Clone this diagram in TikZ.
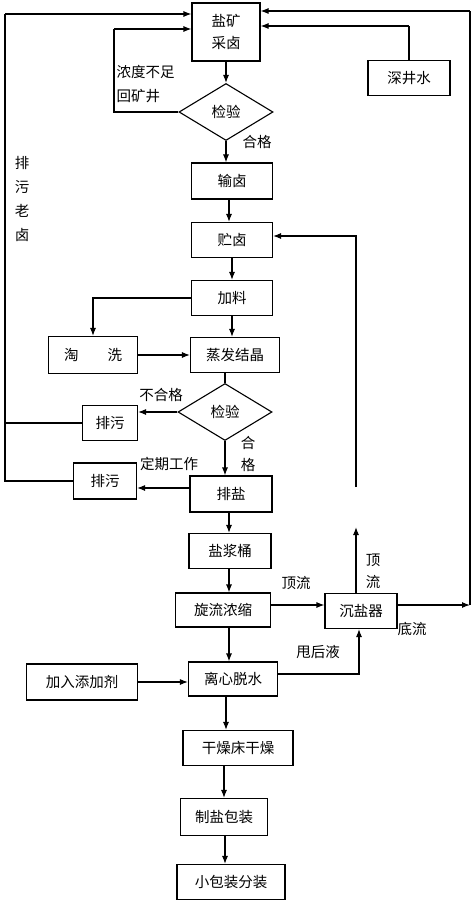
\documentclass[tikz,border=0pt]{standalone}
\usepackage{fontspec}
\newfontfamily\cjk{Noto Sans CJK SC}
\usetikzlibrary{arrows.meta,shapes.geometric}
\begin{document}
\begin{tikzpicture}[x=1pt,y=-1pt,line width=1.1pt,
  txt/.style={font=\cjk\fontsize{14.5}{22}\selectfont},
  box/.style={draw,rectangle,inner sep=0pt,align=center,txt},
  dia/.style={draw,diamond,inner sep=0pt,txt,minimum width=94pt,minimum height=57pt},
  arr/.style={-{Latex[length=8pt,width=6pt]}},
  lbl/.style={inner sep=0pt,txt}]
\useasboundingbox (0,0) rectangle (474,904);
% nodes
\node[box,minimum width=68pt,minimum height=58pt] (caikuang) at (226,32) {盐矿\\采卤};
\node[dia] (jy1) at (226,112) {检验};
\node[box,minimum width=82pt,minimum height=35pt] (shenjing) at (409,78) {深井水};
\node[box,minimum width=81pt,minimum height=36pt] (shulu) at (232,181) {输卤};
\node[box,minimum width=81pt,minimum height=35pt] (zhulu) at (232,240) {贮卤};
\node[box,minimum width=81pt,minimum height=35pt] (jialiao) at (232,298) {加料};
\node[box,minimum width=89pt,minimum height=37pt] (taoxi) at (93,355) {淘\hspace{2em}洗};
\node[box,minimum width=89pt,minimum height=35pt] (zhengfa) at (235,355) {蒸发结晶};
\node[dia] (jy2) at (225,412) {检验};
\node[box,minimum width=55pt,minimum height=35pt] (paiwu1) at (110,423) {排污};
\node[box,minimum width=63pt,minimum height=36pt] (paiwu2) at (105,481) {排污};
\node[box,minimum width=82pt,minimum height=36pt] (paiyan) at (231,494) {排盐};
\node[box,minimum width=82pt,minimum height=35pt] (yanjiang) at (230,551) {盐浆桶};
\node[box,minimum width=95pt,minimum height=34pt] (xuanliu) at (223,610) {旋流浓缩};
\node[box,minimum width=72pt,minimum height=35pt] (chenyan) at (361,611) {沉盐器};
\node[box,minimum width=89pt,minimum height=34pt] (lixin) at (233,679) {离心脱水};
\node[box,minimum width=111pt,minimum height=36pt] (tianjia) at (82,682) {加入添加剂};
\node[box,minimum width=110pt,minimum height=35pt] (ganzao) at (238,748) {干燥床干燥};
\node[box,minimum width=87pt,minimum height=37pt] (zhiyan) at (224,817) {制盐包装};
\node[box,minimum width=108pt,minimum height=35pt] (xiaobao) at (231,882) {小包装分装};
% labels
\node[lbl] (l1) at (257,142) {合格};
\node[lbl,align=center,font=\cjk\fontsize{14.5}{24}\selectfont] (l2) at (22,199) {排\\污\\老\\卤};
\node[lbl,align=left,anchor=west,font=\cjk\fontsize{14.5}{24}\selectfont] (l3) at (116,84) {浓度不足\\回矿井};
\node[lbl] (l4) at (161,395) {不合格};
\node[lbl,align=center] (l5) at (248,454) {合\\格};
\node[lbl] (l6) at (169,464) {定期工作};
\node[lbl] (l7) at (296,583) {顶流};
\node[lbl,align=center] (l8) at (373,571) {顶\\流};
\node[lbl] (l9) at (412,629) {底流};
\node[lbl] (l10) at (318,652) {甩后液};
% coordinates
\coordinate (lt) at (5,14);
\coordinate (rt) at (470,11);
\coordinate (rb) at (470,605);
\coordinate (sj) at (409,26);
\coordinate (nd) at (114,29);
\coordinate (rr) at (356,487);
\coordinate (ct) at (356,527);
% top loops
\draw (paiwu2.west) -| (lt);
\draw[arr] (lt) -- (lt -| caikuang.west);
\draw (paiwu1.west) -- (paiwu1.west -| lt);
\draw[arr] ([yshift=6pt]chenyan.east) -- (rb);
\draw (rb) -- (rt);
\draw[arr] (rt) -- (rt -| caikuang.east);
\draw (shenjing.north) -- (sj);
\draw[arr] (sj) -- (sj -| caikuang.east);
\draw (jy1.west) -| (nd);
\draw[arr] (nd) -- (nd -| caikuang.west);
\draw[arr] (rr) |- ([yshift=4pt]zhulu.east);
\draw[arr] (chenyan.north -| ct) -- (ct);
% main flow
\draw[arr] (caikuang.south) -- (caikuang.south |- jy1.north);
\draw[arr] (jy1.south) -- (jy1.south |- shulu.north);
\draw[arr] ([xshift=-3pt]shulu.south) -- ([xshift=-3pt]shulu.south |- zhulu.north);
\draw[arr] (zhulu.south) -- (zhulu.south |- jialiao.north);
\draw[arr] (jialiao.west) -| (taoxi.north);
\draw[arr] (jialiao.south) -- (jialiao.south |- zhengfa.north);
\draw[arr] (taoxi.east) -- (taoxi.east -| zhengfa.west);
\draw (jy2.north |- zhengfa.south) -- (jy2.north);
\draw[arr] (jy2.west) -- (jy2.west -| paiwu1.east);
\draw[arr] (jy2.south) -- (jy2.south |- paiyan.north);
\draw[arr] ([yshift=6pt]paiyan.west) -- ([yshift=6pt]paiyan.west -| paiwu2.east);
\draw[arr] ([xshift=-2pt]paiyan.south) -- ([xshift=-2pt]paiyan.south |- yanjiang.north);
\draw[arr] ([xshift=-1pt]yanjiang.south) -- ([xshift=-1pt]yanjiang.south |- xuanliu.north);
\draw[arr] ([yshift=5pt]xuanliu.east) -- ([yshift=5pt]xuanliu.east -| chenyan.west);
\draw[arr] ([xshift=6pt]xuanliu.south) -- ([xshift=6pt]xuanliu.south |- lixin.north);
\draw[arr] (tianjia.east) -- (tianjia.east -| lixin.west);
\draw[arr] ([yshift=5pt]lixin.east) -| ([xshift=-2pt]chenyan.south);
\draw[arr] ([xshift=-7pt]lixin.south) -- ([xshift=-7pt]lixin.south |- ganzao.north);
\draw[arr] (zhiyan.north |- ganzao.south) -- (zhiyan.north);
\draw[arr] ([xshift=1pt]zhiyan.south) -- ([xshift=1pt]zhiyan.south |- xiaobao.north);
\end{tikzpicture}
\end{document}
